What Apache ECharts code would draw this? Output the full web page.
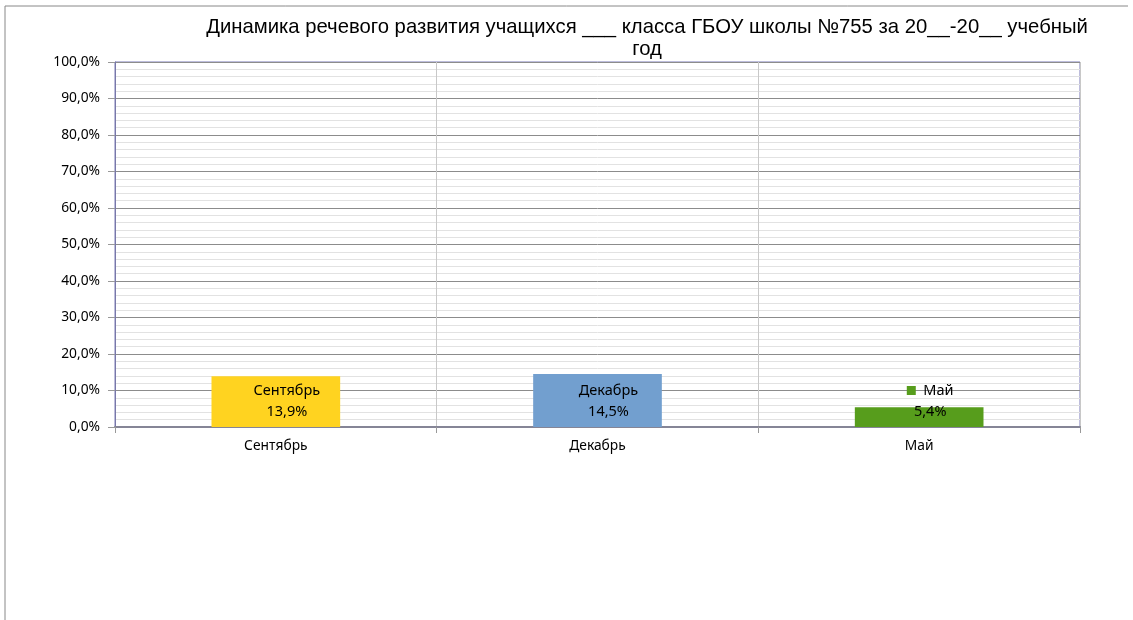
<!DOCTYPE html>
<html>
<head>
    <meta charset="utf-8">
    <title>ECharts</title>
    <script src="https://cdn.jsdelivr.net/npm/echarts@6/dist/echarts.min.js"></script>
</head>
<body style="margin:0">
<div id="main" style="width: 1133px;height:620px;"></div>
<script type="text/javascript">
// данные диаграммы
var months = ['Сентябрь', 'Декабрь', 'Май'];
var values = [0.139, 0.145, 0.054];
var barColors = ['#ffd320', '#729fcf', '#579d1c'];

function pct(v) {
    return (v * 100).toFixed(1).replace('.', ',') + '%';
}

var myChart = echarts.init(document.getElementById('main'));

myChart.setOption({
    backgroundColor: '#fff',
    title: {
        text: 'Динамика речевого развития учащихся ___ класса ГБОУ школы №755 за 20__-20__ учебный\nгод',
        left: 642,
        top: 11,
        textAlign: 'center',
        textStyle: {
            fontFamily: 'Liberation Sans',
            fontSize: 20.3,
            fontWeight: 'normal',
            color: '#000',
            lineHeight: 22
        }
    },
    graphic: [
        { type: 'line', shape: { x1: 5, y1: 6, x2: 1128, y2: 6 }, style: { stroke: '#888', lineWidth: 1 } },
        { type: 'line', shape: { x1: 5, y1: 6, x2: 5, y2: 620 }, style: { stroke: '#888', lineWidth: 1 } }
    ],
    grid: {
        left: 115,
        right: 53,
        top: 62,
        bottom: 193,
        show: true,
        borderColor: '#7b7bb8',
        borderWidth: 1
    },
    xAxis: {
        type: 'category',
        data: months,
        axisLine: { lineStyle: { color: '#858596', width: 2 } },
        axisTick: { show: true, length: 6, lineStyle: { color: '#999' } },
        axisLabel: {
            margin: 12,
            color: '#000',
            fontFamily: 'Noto Sans',
            fontSize: 13.8
        },
        splitLine: { show: true, lineStyle: { color: '#c8c8c8' } }
    },
    yAxis: {
        type: 'value',
        min: 0,
        max: 1,
        interval: 0.1,
        axisLine: { show: true, lineStyle: { color: '#7878a8' } },
        axisTick: { show: true, length: 7, lineStyle: { color: '#999' } },
        axisLabel: {
            margin: 15,
            color: '#000',
            fontFamily: 'Noto Sans',
            fontSize: 13.8,
            formatter: pct
        },
        splitLine: { lineStyle: { color: '#8c8c8c' } },
        minorTick: { show: false, splitNumber: 5 },
        minorSplitLine: { show: true, lineStyle: { color: '#e2e2e2' } }
    },
    series: [{
        type: 'bar',
        barWidth: '40%',
        data: values.map(function (v, i) {
            return { value: v, itemStyle: { color: barColors[i] } };
        }),
        label: {
            show: true,
            position: 'insideBottom',
            distance: 5,
            offset: [11, 0],
            color: '#000',
            fontFamily: 'Noto Sans',
            fontSize: 14.5,
            lineHeight: 21,
            formatter: function (p) {
                var head = p.dataIndex === 2 ? '{sq|}  ' : '';
                return head + p.name + '\n' + pct(p.value);
            },
            rich: {
                sq: { width: 9, height: 9, backgroundColor: '#579d1c' }
            }
        }
    }]
});
</script>
</body>
</html>
